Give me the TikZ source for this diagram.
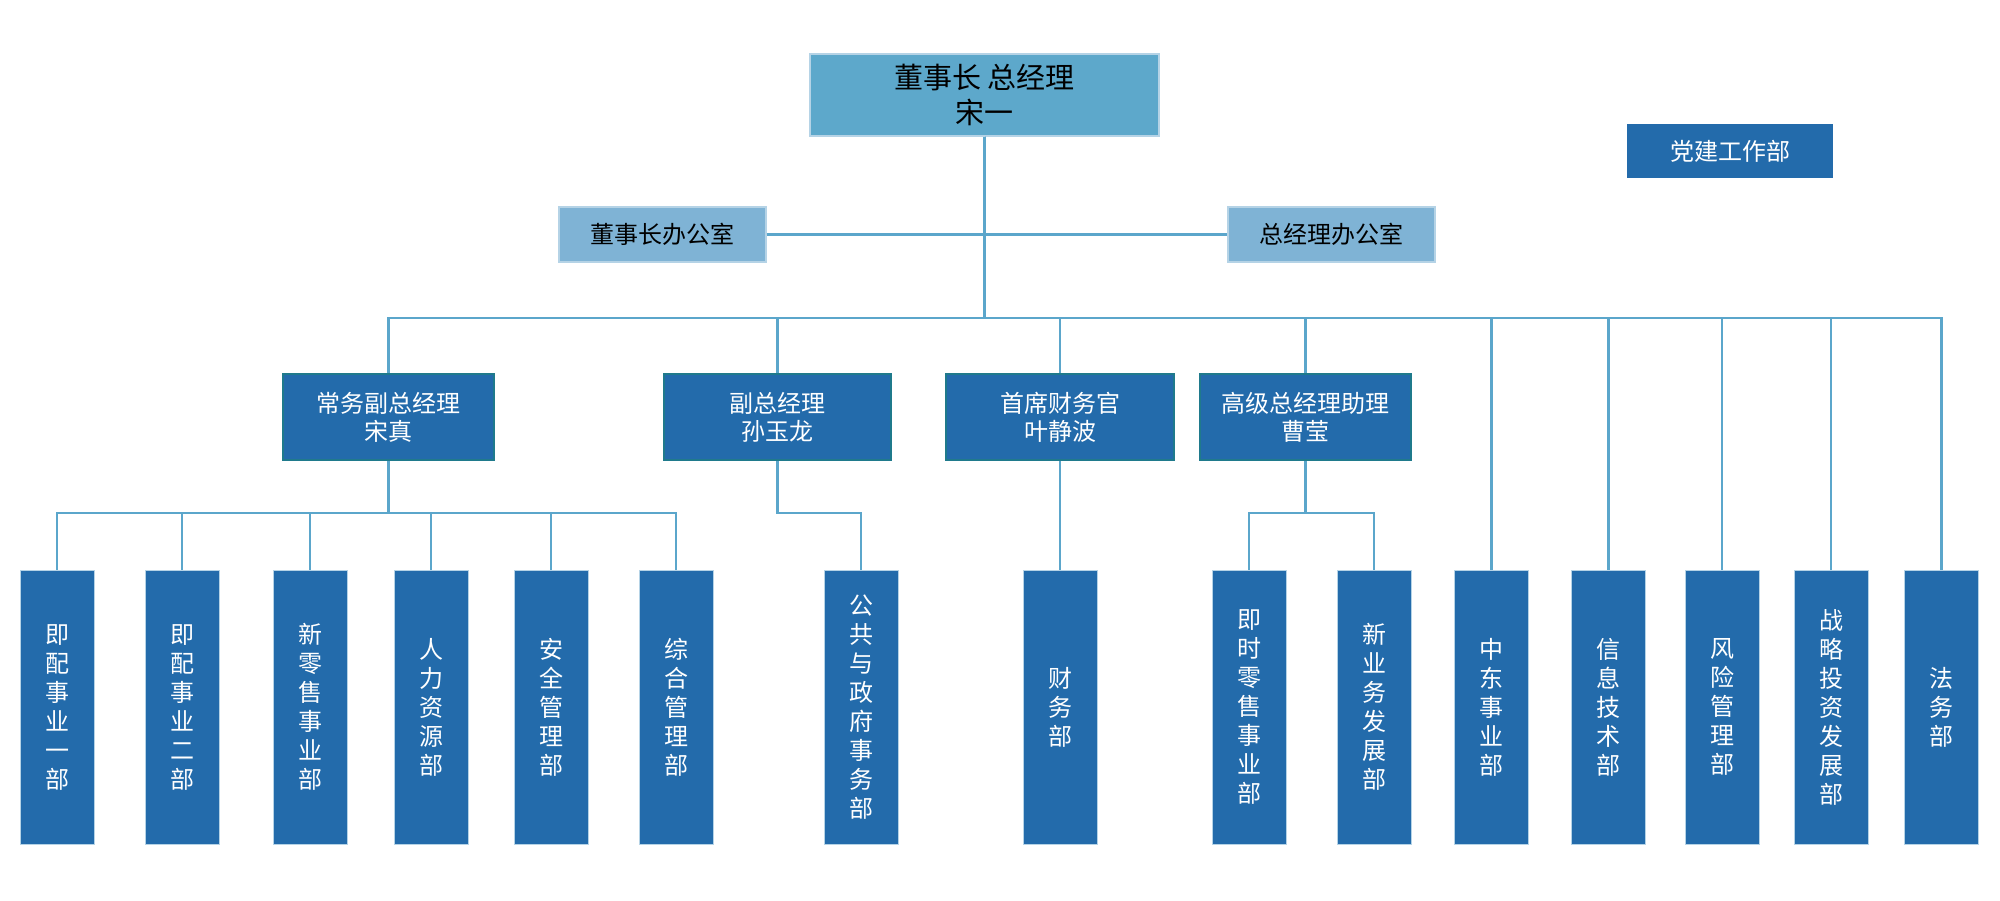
\documentclass[tikz,border=0pt]{standalone}
\usepackage{fontspec}
\newfontfamily\cjk{Noto Sans CJK SC}
\definecolor{dblue}{HTML}{236BAB}
\definecolor{topblue}{HTML}{5DA8CB}
\definecolor{offblue}{HTML}{7FB3D5}
\definecolor{linec}{HTML}{5BA6CB}
\definecolor{tealb}{HTML}{1F7A8C}
\definecolor{lightb}{HTML}{B5D3E6}
\tikzset{
  conn/.style={draw=linec, line width=1.25pt},
  box/.style={inner sep=0pt, align=center},
  topbox/.style={box, fill=topblue, draw=lightb, line width=0.6pt, text=black,
    minimum width=174.5pt, minimum height=41pt, font=\cjk\fontsize{14.5}{17.5}\selectfont},
  offbox/.style={box, fill=offblue, draw=lightb, line width=0.6pt, text=black,
    minimum width=103.5pt, minimum height=27.5pt, font=\cjk\fontsize{12}{14}\selectfont},
  partybox/.style={box, fill=dblue, text=white,
    minimum width=103pt, minimum height=27pt, font=\cjk\fontsize{12}{14}\selectfont},
  midbox/.style={box, fill=dblue, draw=tealb, line width=0.8pt, text=white,
    minimum height=43pt, font=\cjk\fontsize{12}{14}\selectfont},
  vbox/.style={box, fill=dblue, draw=lightb, line width=0.4pt, text=white,
    minimum width=37pt, minimum height=137pt, font=\cjk\fontsize{12}{14.5}\selectfont},
}
\begin{document}
\begin{tikzpicture}[x=0.5pt,y=-0.5pt]
\useasboundingbox[fill=white] (0,0) rectangle (2000,900);

% top level
\node[topbox] (top) at (984.5,95) {董事长 总经理\\宋一};
\node[partybox] (party) at (1730,151) {党建工作部};
\node[offbox] (off1) at (662.5,234.5) {董事长办公室};
\node[offbox] (off2) at (1331.5,234.5) {总经理办公室};

% second level
\node[midbox, minimum width=105.5pt] (l2a) at (388.5,417) {常务副总经理\\宋真};
\node[midbox, minimum width=113.5pt] (l2b) at (777.5,417) {副总经理\\孙玉龙};
\node[midbox, minimum width=114pt] (l2c) at (1060,417) {首席财务官\\叶静波};
\node[midbox, minimum width=105.5pt] (l2d) at (1305.5,417) {高级总经理助理\\曹莹};

% bottom level
\node[vbox] (b1) at (57,707) {即\\配\\事\\业\\一\\部};
\node[vbox] (b2) at (182,707) {即\\配\\事\\业\\二\\部};
\node[vbox] (b3) at (310,707) {新\\零\\售\\事\\业\\部};
\node[vbox] (b4) at (431,707) {人\\力\\资\\源\\部};
\node[vbox] (b5) at (551,707) {安\\全\\管\\理\\部};
\node[vbox] (b6) at (676,707) {综\\合\\管\\理\\部};
\node[vbox] (b7) at (861,707) {公\\共\\与\\政\\府\\事\\务\\部};
\node[vbox] (b8) at (1060,707) {财\\务\\部};
\node[vbox] (b9) at (1249,707) {即\\时\\零\\售\\事\\业\\部};
\node[vbox] (b10) at (1374,707) {新\\业\\务\\发\\展\\部};
\node[vbox] (b11) at (1491.5,707) {中\\东\\事\\业\\部};
\node[vbox] (b12) at (1608.5,707) {信\\息\\技\\术\\部};
\node[vbox] (b13) at (1722,707) {风\\险\\管\\理\\部};
\node[vbox] (b14) at (1831,707) {战\\略\\投\\资\\发\\展\\部};
\node[vbox] (b15) at (1941.5,707) {法\\务\\部};

\coordinate (busY) at (0,318);
\coordinate (subY) at (0,513);

% connectors
\begin{scope}[on background layer/.style={}]
\draw[conn] (off1.east) -- (off2.west);
\foreach \n in {l2a,l2b,l2c,l2d,b11,b12,b13,b14,b15}
  \draw[conn] (top.south) -- (top.south |- busY) -| (\n.north);
\foreach \n in {b1,b2,b3,b4,b5,b6}
  \draw[conn] (l2a.south) -- (l2a.south |- subY) -| (\n.north);
\draw[conn] (l2b.south) -- (l2b.south |- subY) -| (b7.north);
\draw[conn] (l2c.south) -- (b8.north);
\foreach \n in {b9,b10}
  \draw[conn] (l2d.south) -- (l2d.south |- subY) -| (\n.north);
\end{scope}
\end{tikzpicture}
\end{document}
